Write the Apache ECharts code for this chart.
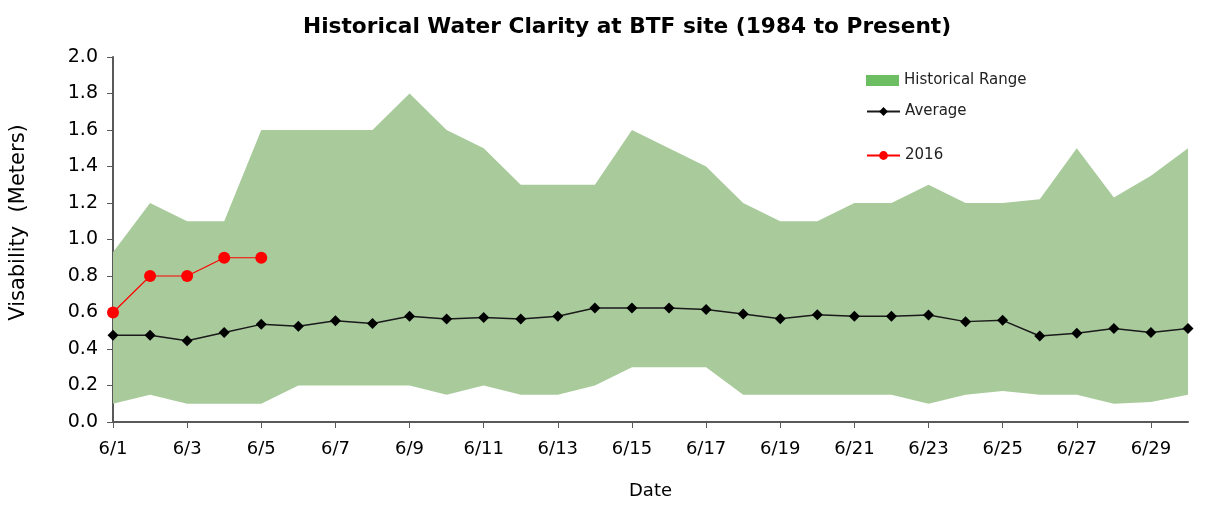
<!DOCTYPE html>
<html>
<head>
<meta charset="utf-8">
<script src="https://cdn.jsdelivr.net/npm/echarts@6/dist/echarts.min.js"></script>
<style>
  html, body { margin: 0; padding: 0; background: #fff; }
  #chart { width: 1225px; height: 523px; }
</style>
</head>
<body>
<div id="chart"></div>
<script>
const dates = ['6/1', '6/2', '6/3', '6/4', '6/5', '6/6', '6/7', '6/8', '6/9', '6/10',
  '6/11', '6/12', '6/13', '6/14', '6/15', '6/16', '6/17', '6/18', '6/19', '6/20',
  '6/21', '6/22', '6/23', '6/24', '6/25', '6/26', '6/27', '6/28', '6/29', '6/30']

// historical max / min per day
const rangeMax = [0.93, 1.2, 1.1, 1.1, 1.6, 1.6, 1.6, 1.6, 1.8, 1.6,
  1.5, 1.3, 1.3, 1.3, 1.6, 1.5, 1.4, 1.2, 1.1, 1.1,
  1.2, 1.2, 1.3, 1.2, 1.2, 1.22, 1.5, 1.23, 1.35, 1.5]
const rangeMin = [0.1, 0.15, 0.1, 0.1, 0.1, 0.2, 0.2, 0.2, 0.2, 0.15,
  0.2, 0.15, 0.15, 0.2, 0.3, 0.3, 0.3, 0.15, 0.15, 0.15,
  0.15, 0.15, 0.1, 0.15, 0.17, 0.15, 0.15, 0.1, 0.11, 0.15]

const average = [0.475, 0.475, 0.445, 0.49, 0.535, 0.525, 0.555, 0.54, 0.58, 0.565,
  0.572, 0.565, 0.58, 0.625, 0.625, 0.625, 0.617, 0.592, 0.566, 0.588,
  0.58, 0.58, 0.586, 0.55, 0.557, 0.471, 0.486, 0.512, 0.491, 0.512]

const year2016 = [0.6, 0.8, 0.8, 0.9, 0.9]

const chart = echarts.init(document.getElementById('chart'))

const font = 'Tahoma, "DejaVu Sans", sans-serif'
const axisColor = '#595959'

const legendBase = {
  orient: 'vertical',
  left: 866,
  padding: 0,
  itemWidth: 33,
  itemHeight: 11,
  itemGap: 4,
  textStyle: { fontSize: 15, color: '#222', fontFamily: font },
  selectedMode: false
}

chart.setOption({
  animation: false,
  title: {
    text: 'Historical Water Clarity at BTF site (1984 to Present)',
    left: 303,
    top: 16,
    padding: 0,
    textStyle: { fontSize: 21.7, fontWeight: 'bold', color: '#000', fontFamily: font }
  },
  legend: [
    Object.assign({}, legendBase, {
      top: 73,
      data: [{ name: 'Historical Range', icon: 'rect', itemStyle: { color: '#6dbd63' } }]
    }),
    Object.assign({}, legendBase, { top: 104, data: ['Average'] }),
    Object.assign({}, legendBase, { top: 148, data: ['2016'] })
  ],
  grid: { left: 113, right: 37, top: 57, bottom: 101, outerBoundsMode: 'none' },
  xAxis: {
    type: 'category',
    data: dates,
    boundaryGap: false,
    name: 'Date',
    nameLocation: 'middle',
    nameGap: 60,
    nameTextStyle: { fontSize: 18, color: '#000', fontFamily: font },
    axisLine: { lineStyle: { color: axisColor, width: 2 } },
    axisTick: { interval: 1, length: 6, lineStyle: { color: axisColor, width: 1 } },
    axisLabel: {
      interval: 1,
      margin: 18,
      fontSize: 18,
      color: '#000',
      fontFamily: font
    },
    splitLine: { show: false }
  },
  yAxis: {
    type: 'value',
    min: 0,
    max: 2,
    interval: 0.2,
    name: 'Visability  (Meters)',
    nameLocation: 'middle',
    nameGap: 84,
    nameTextStyle: { fontSize: 21, color: '#000', fontFamily: font, padding: [0, 0, 0, 34] },
    axisLine: { show: true, lineStyle: { color: axisColor, width: 2 } },
    axisTick: { show: true, length: 6, lineStyle: { color: axisColor } },
    axisLabel: {
      fontSize: 19,
      color: '#000',
      margin: 15,
      fontFamily: font,
      formatter: v => v.toFixed(1)
    },
    splitLine: { show: false }
  },
  series: [
    {
      name: 'rangeBase',
      type: 'line',
      stack: 'range',
      data: rangeMin,
      symbol: 'none',
      lineStyle: { width: 0 },
      areaStyle: { opacity: 0 },
      silent: true
    },
    {
      name: 'Historical Range',
      type: 'line',
      stack: 'range',
      data: rangeMax.map((v, i) => +(v - rangeMin[i]).toFixed(3)),
      symbol: 'none',
      lineStyle: { width: 0 },
      itemStyle: { color: '#a9cb9c' },
      areaStyle: { color: '#a9cb9c', opacity: 1 }
    },
    {
      name: 'Average',
      type: 'line',
      data: average,
      symbol: 'diamond',
      symbolSize: 11,
      itemStyle: { color: '#000' },
      lineStyle: { color: '#1a1a1a', width: 1.5 },
      z: 3
    },
    {
      name: '2016',
      type: 'line',
      data: year2016,
      symbol: 'circle',
      symbolSize: 12,
      itemStyle: { color: '#ff0000' },
      lineStyle: { color: '#ff0000', width: 1.2 },
      z: 4
    }
  ]
})
</script>
</body>
</html>
